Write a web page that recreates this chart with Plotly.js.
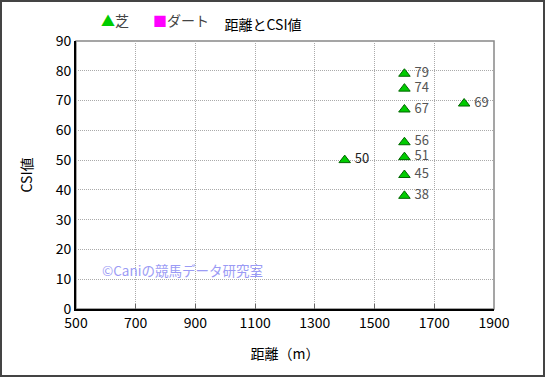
<!DOCTYPE html>
<html><head><meta charset="utf-8">
<script src="https://cdn.plot.ly/plotly-3.0.1.min.js"></script>
<style>body{margin:0;}#c{width:545px;height:377px;}</style>
</head><body><div id="c"></div>
<script>
const turfDist = [1400, 1600, 1600, 1600, 1600, 1600, 1600, 1600, 1800];
const turfCSI  = [50, 79, 74, 67, 56, 51, 45, 38, 69];
const dirtDist = [];
const dirtCSI  = [];
const seriesNames = ['芝', 'ダート'];
const xTicks = [500, 700, 900, 1100, 1300, 1500, 1700, 1900];
const yTicks = [0, 10, 20, 30, 40, 50, 60, 70, 80, 90];

const W = 418, H = 268, L = 76, T = 41;
const px = v => (v - L) / W;
const py = v => (T + H - v) / H;
const font = "'Noto Sans CJK JP', 'Liberation Sans', sans-serif";

const traces = [
  {x: turfDist, y: turfCSI, name: seriesNames[0], type: 'scatter', mode: 'markers+text',
   text: turfCSI.map(v => ' ' + v), textposition: 'middle right',
   textfont: {family: font, size: 13, color: turfCSI.map((v, i) => i === 0 ? '#222' : '#555')},
   marker: {symbol: 'triangle-up', size: 10, color: '#00cc00', line: {color: '#006600', width: 1}},
   cliponaxis: false, showlegend: false},
  {x: dirtDist, y: dirtCSI, name: seriesNames[1], type: 'scatter', mode: 'markers',
   marker: {symbol: 'square', size: 9, color: '#ff00ff'}, showlegend: false}
];

const gridDash = '1px,1px';
const layout = {
  width: 545, height: 377,
  margin: {l: L, r: 545 - L - W, t: T, b: 377 - T - H},
  paper_bgcolor: '#fff', plot_bgcolor: '#fff',
  font: {family: font, size: 14, color: '#000'},
  title: {text: '距離とCSI値', font: {family: font, size: 14, color: '#000'}, x: 263/545, xanchor: 'center', y: 1 - 25/377, yanchor: 'middle', xref: 'container', yref: 'container'},
  showlegend: false,
  xaxis: {range: [500, 1900], tickvals: xTicks, ticktext: xTicks.map(String), showgrid: true,
    gridcolor: '#aaa', griddash: gridDash, gridwidth: 1, zeroline: false,
    showline: true, linecolor: '#000', linewidth: 2, ticks: 'inside', ticklen: 5, tickcolor: '#666',
    tickfont: {family: font, size: 14}, title: {text: '距離（m）', font: {family: font, size: 14}, standoff: 18}},
  yaxis: {range: [0, 90], tickvals: yTicks, ticktext: yTicks.map(String), showgrid: true,
    gridcolor: '#aaa', griddash: gridDash, gridwidth: 1, zeroline: false,
    showline: true, linecolor: '#000', linewidth: 2, ticks: '',
    tickfont: {family: font, size: 14}, title: {text: 'CSI値', font: {family: font, size: 14}, standoff: 20}},
  shapes: [
    {type: 'rect', xref: 'paper', yref: 'paper', x0: 0, x1: 1, y0: 0, y1: 1, line: {color: '#888', width: 1.5}, layer: 'below'},
    {type: 'rect', xref: 'paper', yref: 'paper', x0: px(1), x1: px(544), y0: py(376), y1: py(1), line: {color: '#444', width: 2}}
  ],
  annotations: [
    {text: '<span style="color:#00cc00">▲</span>' + seriesNames[0], xref: 'paper', yref: 'paper', x: px(99), y: py(20), xanchor: 'left', yanchor: 'middle',
     showarrow: false, font: {family: font, size: 14, color: '#444'}},
    {text: '<span style="color:#ff00ff">■</span>' + seriesNames[1], xref: 'paper', yref: 'paper', x: px(151), y: py(20), xanchor: 'left', yanchor: 'middle',
     showarrow: false, font: {family: font, size: 14, color: '#444'}},
    {text: '©Caniの競馬データ研究室', xref: 'paper', yref: 'paper', x: px(100), y: py(270), xanchor: 'left', yanchor: 'middle',
     showarrow: false, font: {family: font, size: 13.5, color: '#9b9bf5'}}
  ]
};
Plotly.newPlot('c', traces, layout, {displayModeBar: false, staticPlot: true});
</script></body></html>
